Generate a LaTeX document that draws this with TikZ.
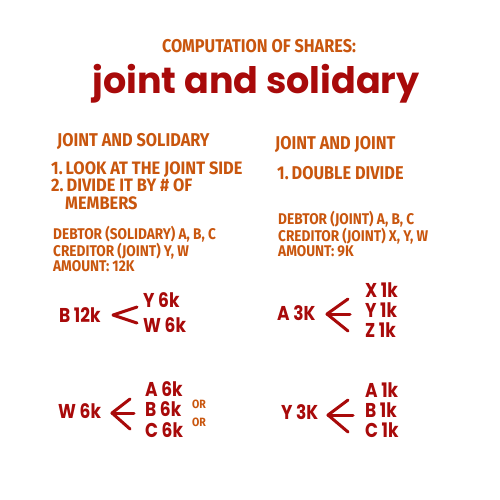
\documentclass[tikz,border=0pt]{standalone}
\usepackage{fontspec}
\newfontfamily\hdfont[FakeStretch=0.88]{Fira Sans}
\newfontfamily\hdfontb[FakeStretch=0.91]{Fira Sans}
\newfontfamily\hwfont[FakeStretch=0.85]{Poppins}
\newfontfamily\ttlfont{Poppins}
\definecolor{orng}{HTML}{C9560E}
\definecolor{rd}{HTML}{A80A0A}
\tikzset{
  otxt/.style={anchor=west,inner sep=0pt,text=orng,font=\hdfont\bfseries\fontsize{#1}{#1}\selectfont},
  otxt/.default=18.5,
  oblock/.style={anchor=north west,inner sep=0pt,text=orng,align=left,font=\hdfont\bfseries\fontsize{15.5}{12.5}\selectfont},
  rtxt/.style={anchor=west,inner sep=0pt,text=rd,font=\hwfont\bfseries\fontsize{20}{20}\selectfont},
  chev/.style={draw=rd,line width=3pt,line cap=round,line join=round}
}
\begin{document}
\begin{tikzpicture}[x=1pt,y=-1pt]
\useasboundingbox (0,0) rectangle (500,500);
\fill[white] (0,0) rectangle (500,500);
% titles
\node[otxt=18.5,anchor=center] (t1) at (259,46) {COMPUTATION OF SHARES:};
\node[anchor=center,inner sep=0pt,text=rd,font=\ttlfont\bfseries\fontsize{36.5}{36.5}\selectfont] (t2) at (256,84) {joint and solidary};
% left column
\node[otxt] (l1) at (57,141) {JOINT AND SOLIDARY};
\node[anchor=north west,inner sep=0pt,text=orng,align=left,font=\hdfontb\bfseries\fontsize{18}{17.5}\selectfont] (l2) at (51,161.5) {1.\,LOOK AT THE JOINT SIDE\\2.\,DIVIDE IT BY \# OF\\\hspace*{14pt}MEMBERS};
\node[oblock] (l5) at (53,226) {DEBTOR (SOLIDARY) A, B, C\\CREDITOR (JOINT) Y, W\\AMOUNT: 12K};
% right column
\node[otxt] (r1) at (275,144) {JOINT AND JOINT};
\node[otxt] (r2) at (277,173) {1.\,DOUBLE DIVIDE};
\node[oblock] (r5) at (278,211) {DEBTOR (JOINT) A, B, C\\CREDITOR (JOINT) X, Y, W\\AMOUNT: 9K};
% diagram 1
\node[rtxt] (b12) at (59,315) {B 12k};
\node[rtxt] (y6) at (143,300) {Y 6k};
\node[rtxt] (w6) at (143,325) {W 6k};
\coordinate (c1a) at (137,307);
\coordinate (c1b) at (113,315);
\coordinate (c1c) at (137,323);
\draw[chev] (c1a) -- (c1b) -- (c1c);
% diagram 2
\node[rtxt] (a3) at (277,313) {A 3K};
\node[rtxt] (x1) at (365,290) {X 1k};
\node[rtxt] (y1) at (365,310) {Y 1k};
\node[rtxt] (z1) at (365,330) {Z 1k};
\coordinate (c2a) at (348,299);
\coordinate (c2b) at (327,314);
\coordinate (c2c) at (348,331);
\coordinate (c2d) at (350,314);
\draw[chev] (c2a) -- (c2b) -- (c2c);
\draw[chev] (c2b) -- (c2d);
% diagram 3
\node[rtxt] (w6b) at (58,411) {W 6k};
\node[rtxt] (a6) at (145,389) {A 6k};
\node[rtxt] (b6) at (145,409) {B 6k};
\node[rtxt] (c6) at (145,430) {C 6k};
\node[otxt=12] (or1) at (192,404) {OR};
\node[otxt=12] (or2) at (192,422) {OR};
\coordinate (c3a) at (130,399);
\coordinate (c3b) at (112,413);
\coordinate (c3c) at (130,429);
\coordinate (c3d) at (134,413);
\draw[chev] (c3a) -- (c3b) -- (c3c);
\draw[chev] (c3b) -- (c3d);
% diagram 4
\node[rtxt] (y3) at (281,412) {Y 3K};
\node[rtxt] (a1) at (365,390) {A 1k};
\node[rtxt] (b1) at (365,410) {B 1k};
\node[rtxt] (cc1) at (365,430) {C 1k};
\coordinate (c4a) at (348,400);
\coordinate (c4b) at (328,415);
\coordinate (c4c) at (348,432);
\coordinate (c4d) at (353,415);
\draw[chev] (c4a) -- (c4b) -- (c4c);
\draw[chev] (c4b) -- (c4d);
\end{tikzpicture}
\end{document}
